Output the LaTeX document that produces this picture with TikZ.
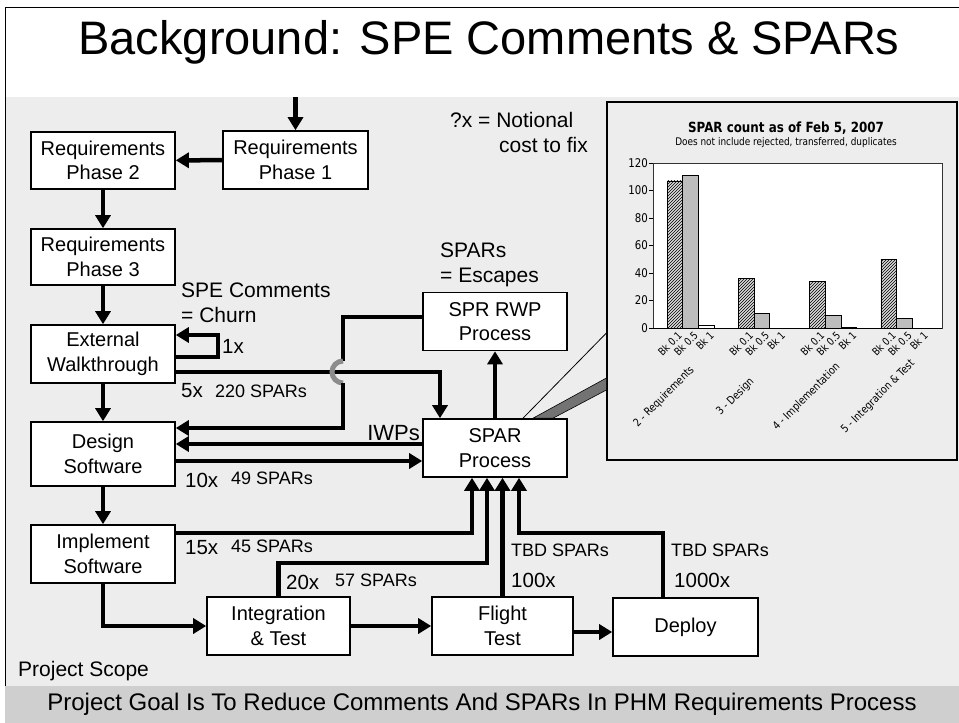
\documentclass[tikz,border=0pt]{standalone}
\usepackage{fontspec}
\setmainfont{Liberation Sans}
\newfontfamily\chartfont{DejaVu Sans}[FakeStretch=0.85]
\usepackage{tikz}
\usetikzlibrary{arrows.meta,patterns,calc}
\definecolor{slidebg}{HTML}{EDEDED}
\definecolor{bannerfill}{HTML}{CFCFCF}
\definecolor{hopgray}{HTML}{8C8C8C}
\definecolor{hatchfill}{HTML}{DADADA}
\definecolor{dotfill}{HTML}{BDBDBD}
\tikzset{pbox/.style={rectangle, draw=black, line width=1.6pt, fill=white, minimum width=144pt, minimum height=58pt, inner sep=0pt, align=center, font=\fontsize{20}{24.5}\selectfont}}
\tikzset{wire/.style={line width=4.5pt}}
\tikzset{flow/.style={wire, -{Triangle[length=13pt,width=15pt]}}}
\tikzset{plain/.style={font=\fontsize{21}{25}\selectfont, inner sep=0pt}}
\tikzset{costx/.style={font=\fontsize{20.5}{24}\selectfont, inner sep=0pt, anchor=west}}
\tikzset{countx/.style={font=\fontsize{18}{22}\selectfont, inner sep=0pt, anchor=west}}
\tikzset{axislbl/.style={font=\chartfont\fontsize{12}{14}\selectfont, inner sep=0pt, anchor=east}}
\tikzset{ticklbl/.style={font=\chartfont\fontsize{10.5}{12}\selectfont, rotate=45, anchor=north east, inner sep=0pt}}
\tikzset{catlbl/.style={font=\chartfont\fontsize{11}{13}\selectfont, rotate=45, anchor=center, inner sep=0pt}}

\begin{document}
\begin{tikzpicture}[x=1pt,y=-1pt]
  \useasboundingbox (0,0) rectangle (959,723);
  \fill[white] (0,0) rectangle (959,723);
  \fill[slidebg] (5,97) rectangle (959,686);
  \draw[line width=1pt] (5,723) -- (5,7) -- (959,7);

  \node[font=\fontsize{47}{50}\selectfont, inner sep=0pt] (title) at (489,42) {Background: SPE Comments \& SPARs};

  % process boxes
  \node[pbox, minimum width=145pt] (rp1) at (295.5,160) {Requirements\\Phase 1};
  \node[pbox, minimum height=57pt] (rp2) at (103,160.5) {Requirements\\Phase 2};
  \node[pbox, minimum height=56pt] (rp3) at (103,257) {Requirements\\Phase 3};
  \node[pbox] (ewalk) at (103,354) {External\\Walkthrough};
  \node[pbox, minimum height=64pt] (design) at (103,454) {Design\\Software};
  \node[pbox] (implement) at (103,554) {Implement\\Software};
  \node[pbox, minimum width=143pt] (integ) at (278.5,626) {Integration\\\& Test};
  \node[pbox, minimum width=141pt] (flight) at (502.5,626) {Flight\\Test};
  \node[pbox, minimum width=145pt] (deploy) at (685.5,627) {Deploy};
  \node[pbox] (spr) at (495,321.5) {SPR RWP\\Process};
  \node[pbox] (spar) at (495,448) {SPAR\\Process};

  % main flow
  \coordinate (entry) at (295.5,97);
  \draw[flow] (entry) -- (rp1);
  \draw[flow] (rp1) -- (rp2);
  \draw[flow] (rp2) -- (rp3);
  \draw[flow] (rp3) -- (ewalk);
  \draw[flow] (ewalk) -- (design);
  \draw[flow] (design) -- (implement);
  \draw[flow] (implement.south) |- (integ.west);
  \draw[flow] (integ) -- (flight);
  \draw[flow] ([yshift=-6pt]flight.east) -- ([yshift=-6pt]flight.east -| deploy.west);

  % churn loop and escapes
  \draw[flow] ([yshift=-3pt]ewalk.east) -- ++(42,0) |- ([yshift=19pt]ewalk.east);
  \draw[flow] ([yshift=-18pt]ewalk.east) -| ([xshift=-55pt]spar.north);
  \coordinate (hopA) at (343,361);
  \coordinate (hopB) at (343,383);
  \draw[wire] ([yshift=4.5pt]spr.west) -| (hopA);
  \draw[line width=5pt, draw=hopgray] (hopA) arc[start angle=90, end angle=270, radius=11pt];
  \draw[flow] (hopB) |- ([yshift=26pt]design.east);
  \draw[flow] (spar) -- (spr);
  \draw[flow] ([yshift=4pt]spar.west) -- ([yshift=4pt]spar.west -| design.east);
  \draw[flow] ([yshift=-7pt]design.east) -- ([yshift=-7pt]design.east -| spar.west);
  \draw[flow] ([yshift=21pt]implement.east) -| ([xshift=-23pt]spar.south);
  \draw[flow] (integ.north) -- ++(0,-33) -| ([xshift=-8pt]spar.south);
  \draw[flow] (flight.north) -- (flight.north |- spar.south);
  \draw[flow] ([xshift=-22.5pt]deploy.north) -- ++(0,-64) -| ([xshift=24pt]spar.south);

  % labels
  \node[plain, anchor=west] (churn1) at (181,290) {SPE Comments};
  \node[plain, anchor=west] (churn2) at (181,315) {= Churn};
  \node[costx] (loopcost) at (222,346) {1x};
  \node[costx] (ewcost) at (181,391) {5x};
  \node[countx] (ewcount) at (215,391) {220 SPARs};
  \node[plain, anchor=west] (esc1) at (440,250) {SPARs};
  \node[plain, anchor=west] (esc2) at (440,277) {= Escapes};
  \node[plain, anchor=west] (note1) at (450,120) {?x = Notional};
  \node[plain, anchor=east] (note2) at (588,145) {cost to fix};
  \node[plain, anchor=east, font=\fontsize{22}{26}\selectfont] (iwps) at (420,433) {IWPs};
  \node[costx] (dscost) at (185,480) {10x};
  \node[countx] (dscount) at (231,478) {49 SPARs};
  \node[costx] (iscost) at (185,548) {15x};
  \node[countx] (iscount) at (231,546) {45 SPARs};
  \node[costx] (itcost) at (286,582) {20x};
  \node[countx] (itcount) at (335,580) {57 SPARs};
  \node[countx] (ftcount) at (511,550) {TBD SPARs};
  \node[costx] (ftcost) at (511,580) {100x};
  \node[countx] (dpcount) at (671,550) {TBD SPARs};
  \node[costx] (dpcost) at (674,580) {1000x};
  \node[plain, anchor=west] (scope) at (18,671) {Project Scope};
  \node[fill=bannerfill, minimum width=954pt, minimum height=37pt, inner sep=0pt, font=\fontsize{24}{28}\selectfont] (goal) at (482,704.5) {Project Goal Is To Reduce Comments And SPARs In PHM Requirements Process};

  % SPAR count chart
  \node[draw=black, line width=1.2pt, fill=slidebg, minimum width=350pt, minimum height=358pt, inner sep=0pt] (chart) at (782,281) {};
  \draw[line width=0.8pt] ([xshift=28pt]spar.north) -- ([yshift=-52pt]chart.west);
  \draw[fill=black!55, line width=0.6pt] ([xshift=38pt]spar.north) -- ([yshift=-97pt]chart.west) -- ([yshift=-109pt]chart.west) -- ([xshift=58pt]spar.north) -- cycle;
  \node[font=\chartfont\bfseries\fontsize{14}{16}\selectfont, inner sep=0pt] (ctitle) at (786,128) {SPAR count as of Feb 5, 2007};
  \node[font=\chartfont\fontsize{10.5}{12}\selectfont, inner sep=0pt] (csub) at (786,143) {Does not include rejected, transferred, duplicates};
  \draw[fill=white, draw=black!80, line width=0.8pt] (653,163) rectangle (942,328);
  \foreach \v in {0,20,...,120} {
    \draw[line width=0.6pt] (653,{328-1.375*\v}) -- ++(-4,0);
    \node[axislbl] at (648,{328-1.375*\v}) {\v};
  }
  \foreach \g/\a/\b/\c/\cat in {0/107/111/2/2 - Requirements, 1/36/11/0/3 - Design, 2/34/9/0.5/4 - Implementation, 3/50/7/0/5 - Integration \& Test} {
    \pgfmathsetmacro\xa{667+71.3*\g}
    \fill[hatchfill] (\xa,328) rectangle ({\xa+15.7},{328-1.375*\a});
    \draw[pattern=north east lines, line width=0.6pt] (\xa,328) rectangle ({\xa+15.7},{328-1.375*\a});
    \draw[fill=dotfill, line width=0.6pt] ({\xa+15.7},328) rectangle ({\xa+31.4},{328-1.375*\b});
    \draw[fill=white, line width=0.6pt] ({\xa+31.4},328) rectangle ({\xa+47.1},{328-1.375*\c});
    \node[ticklbl] at ({\xa+10},331) {Bk 0.1};
    \node[ticklbl] at ({\xa+26},331) {Bk 0.5};
    \node[ticklbl] at ({\xa+42},331) {Bk 1};
    \node[catlbl] at ({\xa-3},397) {\cat};
  }
  \draw[line width=0.8pt] (653,328) -- (942,328);
\end{tikzpicture}
\end{document}
